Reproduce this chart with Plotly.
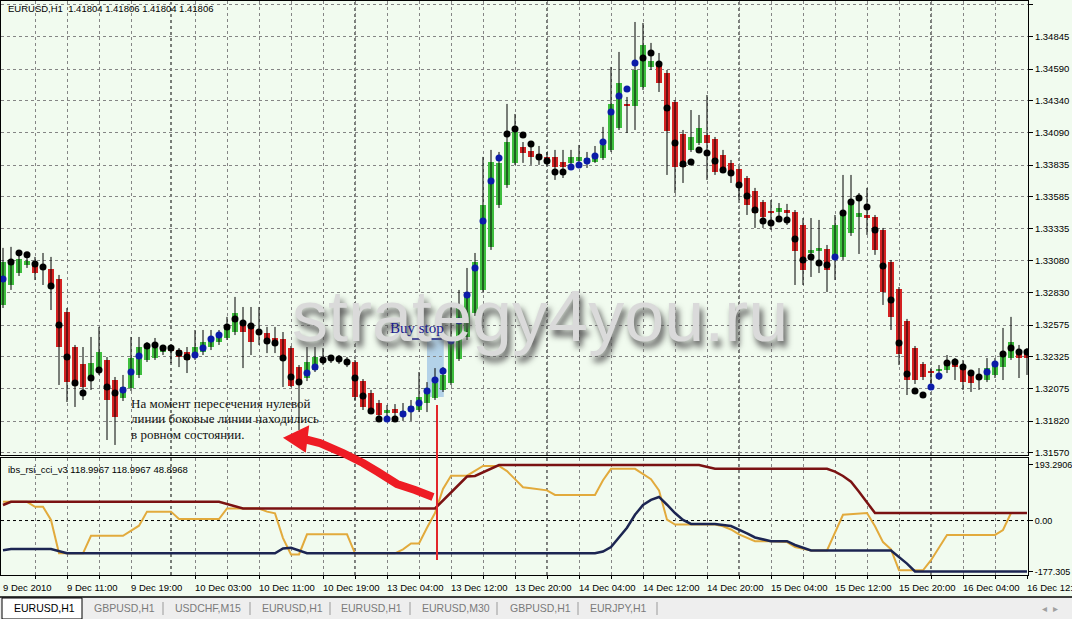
import plotly.graph_objects as go
from plotly.subplots import make_subplots

# --- EURUSD H1 candles, bar 0 = 9 Dec 2010 03:00 ---
OPEN = [
    1.32734, 1.32891, 1.32985, 1.33049, 1.33072, 1.33049, 1.33017, 1.32938, 1.32678, 1.32403,
    1.32270, 1.32159, 1.32206, 1.32301, 1.32143, 1.32002, 1.32080, 1.32183, 1.32301, 1.32316,
    1.32363, 1.32395, 1.32379, 1.32363, 1.32324, 1.32363, 1.32403, 1.32442, 1.32474, 1.32521,
    1.32600, 1.32577, 1.32537, 1.32513, 1.32474, 1.32466, 1.32395, 1.32245, 1.32159, 1.32222,
    1.32293, 1.32301, 1.32316, 1.32301, 1.32285, 1.32135, 1.32041, 1.31962, 1.31883, 1.31915,
    1.31876, 1.31915, 1.31907, 1.31962, 1.32002, 1.32065, 1.32119, 1.32308, 1.32482, 1.32671,
    1.32852, 1.33191, 1.33521, 1.33678, 1.33852, 1.33977, 1.33946, 1.33922, 1.33899, 1.33899,
    1.33859, 1.33852, 1.33867, 1.33875, 1.33859, 1.33891, 1.33954, 1.34127, 1.34316, 1.34300,
    1.34449, 1.34607, 1.34623, 1.34559, 1.34331, 1.34079, 1.33954, 1.34009, 1.34071, 1.34040,
    1.33914, 1.33852, 1.33804, 1.33733, 1.33631, 1.33544, 1.33474, 1.33466, 1.33481, 1.33466,
    1.33363, 1.33143, 1.33159, 1.33175, 1.33112, 1.33112, 1.33300, 1.33426, 1.33442, 1.33426,
    1.33324, 1.33072, 1.32860, 1.32608, 1.32395, 1.32270, 1.32214, 1.32214, 1.32222, 1.32285,
    1.32261, 1.32206, 1.32159, 1.32143, 1.32183, 1.32245, 1.32316, 1.32363, 1.32363,
]
HIGH = [
    1.33183, 1.33191, 1.33143, 1.33136, 1.33112, 1.33143, 1.33112, 1.32970, 1.32710, 1.32419,
    1.32403, 1.32482, 1.32561, 1.32324, 1.32167, 1.32183, 1.32482, 1.32482, 1.32442, 1.32474,
    1.32419, 1.32419, 1.32395, 1.32403, 1.32537, 1.32537, 1.32537, 1.32537, 1.32640, 1.32797,
    1.32718, 1.32718, 1.32718, 1.32561, 1.32561, 1.32521, 1.32411, 1.32261, 1.32403, 1.32403,
    1.32395, 1.32340, 1.32340, 1.32324, 1.32301, 1.32151, 1.32065, 1.31986, 1.31946, 1.31954,
    1.31962, 1.31986, 1.32206, 1.32127, 1.32237, 1.32245, 1.32718, 1.32852, 1.33025, 1.33143,
    1.33899, 1.33954, 1.33938, 1.34316, 1.34237, 1.34016, 1.33993, 1.33985, 1.33938, 1.33954,
    1.33954, 1.33954, 1.33993, 1.33938, 1.33985, 1.34135, 1.34607, 1.34725, 1.34371, 1.34961,
    1.34953, 1.34796, 1.34717, 1.34583, 1.34347, 1.34111, 1.34268, 1.34229, 1.34386, 1.34056,
    1.33954, 1.33875, 1.33820, 1.33749, 1.33655, 1.33560, 1.33560, 1.33536, 1.33529, 1.33481,
    1.33418, 1.33418, 1.33403, 1.33206, 1.33442, 1.33757, 1.33757, 1.33615, 1.33655, 1.33442,
    1.33340, 1.33088, 1.32875, 1.32624, 1.32411, 1.32285, 1.32230, 1.32261, 1.32340, 1.32316,
    1.32301, 1.32222, 1.32237, 1.32316, 1.32316, 1.32553, 1.32640, 1.32419, 1.32395,
]
LOW = [
    1.32710, 1.32852, 1.32962, 1.33025, 1.32930, 1.32891, 1.32694, 1.32104, 1.31970, 1.31931,
    1.31986, 1.32065, 1.32183, 1.31671, 1.31632, 1.31978, 1.32057, 1.32159, 1.32285, 1.32301,
    1.32340, 1.32277, 1.32245, 1.32198, 1.32301, 1.32340, 1.32379, 1.32419, 1.32458, 1.32497,
    1.32237, 1.32340, 1.32419, 1.32355, 1.32355, 1.32088, 1.32088, 1.31750, 1.32135, 1.32206,
    1.32261, 1.32277, 1.32270, 1.32245, 1.31986, 1.31907, 1.31876, 1.31844, 1.31860, 1.31860,
    1.31821, 1.31821, 1.31891, 1.31891, 1.31986, 1.32049, 1.32104, 1.32293, 1.32458, 1.32647,
    1.32836, 1.33167, 1.33497, 1.33655, 1.33836, 1.33852, 1.33836, 1.33836, 1.33828, 1.33718,
    1.33733, 1.33812, 1.33820, 1.33812, 1.33852, 1.33875, 1.33938, 1.34111, 1.34087, 1.34111,
    1.34426, 1.34583, 1.34410, 1.33757, 1.33615, 1.33694, 1.33938, 1.33993, 1.33718, 1.33757,
    1.33781, 1.33694, 1.33560, 1.33442, 1.33340, 1.33340, 1.33324, 1.33387, 1.33363, 1.32891,
    1.32891, 1.32954, 1.32985, 1.32836, 1.32930, 1.33088, 1.33277, 1.33135, 1.33285, 1.33128,
    1.32734, 1.32537, 1.32261, 1.32025, 1.32112, 1.32143, 1.32065, 1.32143, 1.32198, 1.32143,
    1.32065, 1.32049, 1.32065, 1.32127, 1.32159, 1.32143, 1.32301, 1.32159, 1.32183,
]
CLOSE = [
    1.33072, 1.33072, 1.33096, 1.33080, 1.32985, 1.33025, 1.32875, 1.32403, 1.32127, 1.32104,
    1.32088, 1.32277, 1.32363, 1.31986, 1.31852, 1.32088, 1.32316, 1.32403, 1.32395, 1.32395,
    1.32395, 1.32371, 1.32324, 1.32301, 1.32403, 1.32442, 1.32482, 1.32513, 1.32561, 1.32671,
    1.32521, 1.32442, 1.32505, 1.32442, 1.32419, 1.32301, 1.32096, 1.32119, 1.32285, 1.32324,
    1.32316, 1.32324, 1.32293, 1.32277, 1.32010, 1.31931, 1.31891, 1.31868, 1.31907, 1.31883,
    1.31899, 1.31939, 1.32010, 1.32080, 1.32119, 1.32183, 1.32482, 1.32710, 1.32828, 1.33072,
    1.33521, 1.33859, 1.33852, 1.34016, 1.34095, 1.33930, 1.33899, 1.33899, 1.33875, 1.33820,
    1.33820, 1.33899, 1.33899, 1.33891, 1.33914, 1.33993, 1.34316, 1.34481, 1.34300, 1.34583,
    1.34780, 1.34654, 1.34481, 1.34103, 1.33820, 1.33820, 1.34056, 1.34127, 1.34009, 1.33781,
    1.33812, 1.33773, 1.33663, 1.33521, 1.33458, 1.33426, 1.33458, 1.33497, 1.33458, 1.33159,
    1.33009, 1.33167, 1.33183, 1.33009, 1.33363, 1.33466, 1.33560, 1.33458, 1.33418, 1.33167,
    1.32836, 1.32640, 1.32348, 1.32143, 1.32143, 1.32167, 1.32198, 1.32230, 1.32277, 1.32245,
    1.32127, 1.32119, 1.32183, 1.32237, 1.32277, 1.32340, 1.32442, 1.32316, 1.32316,
]
# indicator dots on the price chart (k = black, b = blue)
DOT = [
    1.32938, 1.33072, 1.33143, 1.33128, 1.33057, 1.33033, 1.32883, 1.32577, 1.32324, 1.32119,
    1.32041, 1.32159, 1.32222, 1.32088, 1.32041, 1.32065, 1.32206, 1.32332, 1.32411, 1.32419,
    1.32395, 1.32395, 1.32355, 1.32324, 1.32340, 1.32395, 1.32466, 1.32497, 1.32561, 1.32624,
    1.32592, 1.32569, 1.32521, 1.32450, 1.32434, 1.32316, 1.32167, 1.32127, 1.32198, 1.32245,
    1.32301, 1.32316, 1.32308, 1.32285, 1.32159, 1.32017, 1.31899, 1.31836, 1.31836, 1.31836,
    1.31876, 1.31915, 1.31962, 1.32057, 1.32143, 1.32214, 1.32450, 1.32608, 1.32813, 1.33025,
    1.33395, 1.33710, 1.33891, 1.34079, 1.34119, 1.34071, 1.34001, 1.33899, 1.33867, 1.33781,
    1.33781, 1.33820, 1.33836, 1.33867, 1.33907, 1.34016, 1.34253, 1.34379, 1.34434, 1.34638,
    1.34678, 1.34717, 1.34630, 1.34284, 1.34009, 1.33843, 1.33859, 1.33954, 1.33930, 1.33867,
    1.33796, 1.33773, 1.33678, 1.33592, 1.33481, 1.33395, 1.33379, 1.33411, 1.33403, 1.33253,
    1.33088, 1.33112, 1.33064, 1.33049, 1.33112, 1.33458, 1.33544, 1.33576, 1.33505, 1.33324,
    1.33041, 1.32773, 1.32434, 1.32190, 1.32057, 1.32025, 1.32088, 1.32175, 1.32277, 1.32285,
    1.32245, 1.32198, 1.32167, 1.32206, 1.32270, 1.32348, 1.32395, 1.32363, 1.32363,
]
DOT_KIND = (
    "bkkkkkkkkk" "kkkkkbbbkk" "kkkkbbbbkk" "kkkkkkkkbb" "kkkkkkkkbk"
    "bbbbbbbbbb" "bbbkkkkkkk" "kbbbbbbbbb" "kkkkkkkkkk" "kkkkkkkkkk"
    "kkkkbkkkkk" "kkkkkkbbkk" "kkkbbkkkk"
)

PRICE_TICKS = [1.35095, 1.34845, 1.34590, 1.34340, 1.34090, 1.33835, 1.33585, 1.33335,
               1.33080, 1.32830, 1.32575, 1.32325, 1.32075, 1.31820, 1.31570]
TIME_LABELS = ["9 Dec 2010", "9 Dec 11:00", "9 Dec 19:00", "10 Dec 03:00", "10 Dec 11:00",
               "10 Dec 19:00", "13 Dec 04:00", "13 Dec 12:00", "13 Dec 20:00", "14 Dec 04:00",
               "14 Dec 12:00", "14 Dec 20:00", "15 Dec 04:00", "15 Dec 12:00", "15 Dec 20:00",
               "16 Dec 04:00", "16 Dec 12:00"]
DAY_START_BARS = [21, 44, 68, 92, 116]

# ibs_rsi_cci_v3 lines, as (bar, value) vertices
TOP_X = [0, 1, 27, 28, 29, 30, 54, 55, 56, 57, 58, 59, 60, 61, 62, 87, 88, 89,
         103, 104, 105, 106, 107, 108, 109, 128]
TOP_Y = [54, 65, 65, 58, 50, 42, 42, 70, 98, 125, 153, 155, 168, 180, 193.29, 193.29, 186, 180,
         180, 170, 155, 135, 100, 62, 26, 26]
MID_X = [0, 3, 4, 5, 6, 7, 10, 11, 15, 16, 17, 18, 21, 22, 27, 28, 32, 33, 34, 35,
         36, 37, 38, 43, 44, 49, 50, 51, 52, 53, 54, 55, 56, 58, 59, 60, 62, 63, 64, 65,
         66, 67, 68, 69, 74, 75, 76, 79, 80, 81, 82, 83, 84, 85, 89, 90, 91, 92, 94, 96,
         98, 99, 101, 103, 104, 105, 108, 109, 110, 111, 112, 115, 116, 118, 124, 125, 126, 128]
MID_Y = [65, 65, 48, 48, 2, -114, -114, -53, -53, -36, -18, 31, 31, 5, 5, 42, 42, 31, 25, -61,
         -118, -118, -48, -48, -114, -114, -100, -80, -80, -25, 26, 110, 156, 156, 173, 190, 190, 172, 144, 116,
         112, 108, 105, 89, 89, 140, 180, 180, 162, 144, 105, 3, -14, -14, -14, -20, -31, -48, -72, -72,
         -75, -92, -104, -104, -40, 20, 26, -20, -75, -100, -173, -173, -138, -50, -50, -33, 26, 26]
LOW_X = [0, 1, 6, 8, 34, 35, 36, 37, 38, 74, 75, 76, 77, 78, 79, 80, 81, 82, 83, 84,
         85, 86, 89, 91, 93, 94, 96, 98, 99, 101, 111, 112, 113, 114, 128]
LOW_Y = [-103, -99, -99, -114, -114, -97, -95, -105, -114, -114, -108, -92, -58, -25, 20, 54, 72, 82, 55, 26,
         2, -12, -12, -19, -45, -59, -72, -72, -85, -104, -104, -127, -150, -177.3, -177.3]

TABS = ["EURUSD,H1", "GBPUSD,H1", "USDCHF,M15", "EURUSD,H1", "EURUSD,H1",
        "EURUSD,M30", "GBPUSD,H1", "EURJPY,H1"]

# --- page geometry (pixels) ---
W, H = 1072, 619
ML, MR, MT, MB = 1, 44, 1, 44
PW, PH = W - ML - MR, H - MT - MB


def px(x):
    return (x - ML) / PW


def py(y):
    return 1 - (y - MT) / PH


BG = "#F1FBEF"
GREEN = "#3EBE3E"
RED = "#D42222"
GRID = "#858585"
FONT = "Liberation Sans, Arial, sans-serif"
SERIF = "Liberation Serif, Times New Roman, serif"

fig = make_subplots(rows=2, cols=1, shared_xaxes=True)

bars = list(range(len(OPEN)))

# --- wicks ---
wick_x, wick_y = [], []
for i, h, l in zip(bars, HIGH, LOW):
    wick_x += [i, i, None]
    wick_y += [l, h, None]
fig.add_trace(go.Scatter(x=wick_x, y=wick_y, mode="lines",
                         line=dict(color="#000000", width=1), hoverinfo="skip"), row=1, col=1)

# --- candle bodies ---
fig.add_trace(go.Bar(
    x=bars,
    base=[min(o, c) for o, c in zip(OPEN, CLOSE)],
    y=[max(abs(c - o), 0.00004) for o, c in zip(OPEN, CLOSE)],
    width=0.65,
    marker=dict(color=[GREEN if c >= o else RED for o, c in zip(OPEN, CLOSE)], line_width=0),
    hoverinfo="skip",
), row=1, col=1)

# --- dots ---
fig.add_trace(go.Scatter(
    x=bars, y=DOT, mode="markers",
    marker=dict(size=7, color=["#0B1BA8" if k == "b" else "#000000" for k in DOT_KIND]),
    hoverinfo="skip",
), row=1, col=1)

# --- indicator window ---
fig.add_trace(go.Scatter(x=MID_X, y=MID_Y, mode="lines",
                         line=dict(color="#E2AA3C", width=2)), row=2, col=1)
fig.add_trace(go.Scatter(x=LOW_X, y=LOW_Y, mode="lines",
                         line=dict(color="#1C2552", width=2.5)), row=2, col=1)
fig.add_trace(go.Scatter(x=TOP_X, y=TOP_Y, mode="lines",
                         line=dict(color="#7A1212", width=2.5)), row=2, col=1)

grid_bars = [i for i in range(4, 129, 4) if i != 20]  # no grid line right next to 10 Dec
xstyle = dict(range=[-0.25, 128.125], tickvals=grid_bars, showticklabels=False,
              showgrid=True, gridcolor=GRID, griddash="3px,3px", gridwidth=1,
              showline=True, mirror=True, linecolor="#000000", linewidth=1,
              zeroline=False, fixedrange=True)
fig.update_xaxes(**xstyle, ticks="", row=1, col=1)
fig.update_xaxes(**xstyle, ticks="outside", ticklen=3, tickcolor="#000000", row=2, col=1)

fig.update_yaxes(
    domain=[py(455), py(1)], range=[1.31553, 1.35126], side="right",
    tickvals=PRICE_TICKS, ticktext=[f"{p:.5f}" for p in PRICE_TICKS],
    ticks="outside", ticklen=4, tickcolor="#000000",
    tickfont=dict(family=FONT, size=9.5, color="#000000"),
    showgrid=True, gridcolor=GRID, griddash="3px,3px", gridwidth=1,
    showline=True, mirror=True, linecolor="#000000", linewidth=1,
    zeroline=False, fixedrange=True, row=1, col=1)
fig.update_yaxes(
    domain=[py(575), py(458)], range=[-189.5, 217.6], side="right",
    tickvals=[193.2906, 0, -177.305], ticktext=["193.2906", "0.00", "-177.305"],
    ticks="outside", ticklen=4, tickcolor="#000000",
    tickfont=dict(family=FONT, size=9, color="#000000"),
    showgrid=False, showline=True, mirror=True, linecolor="#000000", linewidth=1,
    zeroline=False, fixedrange=True, row=2, col=1)

shapes = []
# day separators
for d in DAY_START_BARS:
    shapes.append(dict(type="line", xref="x", yref="paper", x0=d, x1=d, y0=0, y1=1,
                       line=dict(color="#000000", width=1, dash="dot"), layer="below"))
# indicator zero level
shapes.append(dict(type="line", xref="x2 domain", yref="y2", x0=0, x1=1, y0=0, y1=0,
                   line=dict(color="#000000", width=1, dash="3px,3px"), layer="below"))
# buy stop zone + level
shapes.append(dict(type="rect", xref="x", yref="y", x0=53.0, x1=55.1, y0=1.32010, y1=1.32474,
                   fillcolor="#A4C8E6", opacity=0.8, line_width=0, layer="below"))
shapes.append(dict(type="line", xref="x", yref="y", x0=50.3, x1=54.9, y0=1.32466, y1=1.32466,
                   line=dict(color="#1B1B8F", width=1.5)))
# red vertical marker at the zero cross
shapes.append(dict(type="line", xref="x", yref="paper", x0=54.25, x1=54.25, y0=py(560), y1=py(405),
                   line=dict(color="#E2262A", width=2)))
# hand drawn red arrow
arrow_px = [(433, 497), (415, 490), (397, 484), (378, 472), (363, 463), (343, 453), (320, 443), (300, 438)]
path = "M " + " L ".join(f"{px(x):.5f},{py(y):.5f}" for x, y in arrow_px)
shapes.append(dict(type="path", xref="paper", yref="paper", path=path,
                   line=dict(color="#EE1C24", width=8)))
head_px = [(285, 438), (308, 427), (305, 451)]
head = "M " + " L ".join(f"{px(x):.5f},{py(y):.5f}" for x, y in head_px) + " Z"
shapes.append(dict(type="path", xref="paper", yref="paper", path=head,
                   fillcolor="#EE1C24", line=dict(color="#EE1C24", width=2)))
# tab bar
shapes.append(dict(type="rect", xref="paper", yref="paper", x0=px(0), x1=px(W), y0=py(619), y1=py(597),
                   fillcolor="#EEEEEE", line_width=0))
shapes.append(dict(type="line", xref="paper", yref="paper", x0=px(0), x1=px(W), y0=py(597), y1=py(597),
                   line=dict(color="#000000", width=1.5)))
shapes.append(dict(type="rect", xref="paper", yref="paper", x0=px(2), x1=px(82), y0=py(619), y1=py(598),
                   fillcolor="#FFFFFF", line=dict(color="#000000", width=1)))
for sx in [163, 250, 330, 410, 497, 578, 657]:
    shapes.append(dict(type="line", xref="paper", yref="paper", x0=px(sx), x1=px(sx),
                       y0=py(615), y1=py(602), line=dict(color="#9A9A9A", width=1)))

ann = []
ann.append(dict(xref="paper", yref="paper", x=px(6), y=py(8), xanchor="left", yanchor="middle",
                text="EURUSD,H1  1.41804 1.41806 1.41804 1.41806", showarrow=False,
                font=dict(family=FONT, size=9.5, color="#000000")))
ann.append(dict(xref="paper", yref="paper", x=px(6), y=py(469), xanchor="left", yanchor="middle",
                text="ibs_rsi_cci_v3 118.9967 118.9967 48.8968", showarrow=False,
                font=dict(family=FONT, size=9.5, color="#000000")))
for b, t in zip(range(0, 129, 8), TIME_LABELS):
    ann.append(dict(xref="x2", yref="paper", x=b, y=py(587), xanchor="left", yanchor="middle",
                    xshift=-2, text=t, showarrow=False,
                    font=dict(family=FONT, size=9.5, color="#000000")))
ann.append(dict(xref="paper", yref="paper", x=px(540), y=py(316), xanchor="center", yanchor="middle",
                text="strategy4you.ru", showarrow=False,
                font=dict(family=FONT, size=72, color="#DADADA", shadow="3px 6px 6px #555555")))
ann.append(dict(xref="x", yref="y", x=51.8, y=1.32553, text="Buy stop", showarrow=False,
                font=dict(family=SERIF, size=15, color="#1B1B8F")))
for j, line in enumerate(["На момент пересечения нулевой",
                          "линии боковые линии находились",
                          "в ровном состоянии."]):
    ann.append(dict(xref="paper", yref="paper", x=px(129), y=py(403 + 15.5 * j),
                    xanchor="left", yanchor="middle", text=line, showarrow=False,
                    font=dict(family=SERIF, size=13, color="#111111")))
for tx, name in zip([12, 92, 173, 260, 339, 420, 508, 588], TABS):
    ann.append(dict(xref="paper", yref="paper", x=px(tx), y=py(608), xanchor="left", yanchor="middle",
                    text=name, showarrow=False,
                    font=dict(family=FONT, size=10.5, color="#000000" if tx == 12 else "#7A7A7A")))
ann.append(dict(xref="paper", yref="paper", x=px(1050), y=py(608), xanchor="center", yanchor="middle",
                text="◂  ▸", showarrow=False, font=dict(family=FONT, size=10, color="#A0A0A0")))

fig.update_layout(
    width=W, height=H,
    margin=dict(l=ML, r=MR, t=MT, b=MB, autoexpand=False),
    paper_bgcolor=BG, plot_bgcolor=BG,
    showlegend=False, bargap=0,
    shapes=shapes, annotations=ann,
    hovermode=False,
)

# the page's default body margin would shift the whole chart by 8px
fig.write_html("out.html", config={"displayModeBar": False},
               post_script="document.body.style.margin='0';")
